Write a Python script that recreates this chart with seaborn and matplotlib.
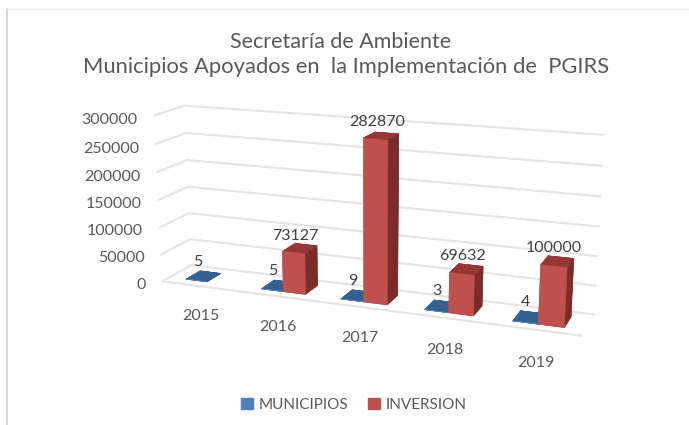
import numpy as np
import pandas as pd
import matplotlib as mpl
import matplotlib.pyplot as plt
import seaborn as sns
from matplotlib.lines import Line2D
from matplotlib.patches import Patch
from mpl_toolkits.mplot3d import proj3d

years = ['2015', '2016', '2017', '2018', '2019']
municipios = [5, 5, 9, 3, 4]
inversion = [0, 73127, 282870, 69632, 100000]
z_ticks = [0, 50000, 100000, 150000, 200000, 250000, 300000]
title_lines = ['Secretaría de Ambiente', 'Municipios Apoyados en  la Implementación de  PGIRS']

sns.set_theme(style='white')
plt.rcParams['font.family'] = ['Lato', 'DejaVu Sans']

blue, red = sns.color_palette(['#4F81BD', '#C0504D'])
blue_top = '#376092'
blue_side = '#2F5480'
red_top = '#953735'
red_side = '#7A2C2A'
grid_color = '#E4E4E4'
text_color = '#595959'
label_color = '#404040'

df = pd.DataFrame({'year': years, 'MUNICIPIOS': municipios, 'INVERSION': inversion})

fig = plt.figure(figsize=(6.89, 4.25), dpi=100)
fig.patch.set_facecolor('white')

side = 620
ax = fig.add_axes([(361 - side / 2) / 689, (425 - 221 - side / 2) / 425, side / 689, side / 425],
                  projection='3d', computed_zorder=False)
ax.set_proj_type('persp', focal_length=0.35)
ax.view_init(elev=15, azim=-69)
ax.set_box_aspect((413, 57, 165), zoom=0.76)
ax.set_xlim(0, 5)
ax.set_ylim(0, 1)
ax.set_zlim(0, 300000)
ax.set_axis_off()
ax.patch.set_alpha(0)


def label(x, y, z, s, color, ha='center', size=11.5):
    # project by hand so the text sits in plain 2d axes coords
    px, py, _ = proj3d.proj_transform(x, y, z, ax.get_proj())
    ax.text2D(px, py, s, transform=ax.transData, ha=ha, va='center', color=color, fontsize=size, zorder=7)


# walls
for z in z_ticks:
    ax.plot([0, 0, 5], [0, 1, 1], [z, z, z], color=grid_color, lw=1.5, zorder=1)
    label(-0.23, 0, z - 11000, str(z), text_color, ha='right')
ax.plot([0, 5], [0, 0], [0, 0], color=grid_color, lw=1.5, zorder=1)

# bars
bar_w = 0.28
y0, depth = 0.25, 0.5
for i, row in df.iterrows():
    blue_faces = [blue, blue_top, blue, blue_side, blue, blue_side]
    ax.bar3d(i + 0.5 - bar_w, y0, 0, bar_w, depth, row['MUNICIPIOS'], color=blue_faces,
             edgecolor=blue_faces, linewidth=0.4, shade=False, zorder=2)
    label(i + 0.5 - bar_w * 0.63, 0.4, row['MUNICIPIOS'] + 29000, str(row['MUNICIPIOS']), label_color)
    if row['INVERSION'] > 0:
        red_faces = [red, red_top, red, red_side, red, red_side]
        ax.bar3d(i + 0.5, y0, 0, bar_w, depth, row['INVERSION'], color=red_faces,
                 edgecolor=red_faces, linewidth=0.4, shade=False, zorder=3)
        label(i + 0.45 + bar_w / 2, 0.5, row['INVERSION'] + 22000, str(row['INVERSION']), label_color)
    label(i + 0.54, -0.1, -52000, row['year'], text_color)

fig.text(341 / 689, 1 - 42 / 425, title_lines[0], ha='center', va='center', color=text_color, fontsize=15.5)
fig.text(346 / 689, 1 - 67 / 425, title_lines[1], ha='center', va='center', color=text_color, fontsize=15.8)

handles = [Patch(color=blue, label='MUNICIPIOS'), Patch(color=red, label='INVERSION')]
leg = fig.legend(handles=handles, loc='center', bbox_to_anchor=(354 / 689, 1 - 405 / 425), ncol=2,
                 frameon=False, fontsize=11, handlelength=0.75, handleheight=0.75,
                 handletextpad=0.4, columnspacing=1.3)
for t in leg.get_texts():
    t.set_color(text_color)

# chart frame
fig.add_artist(Line2D([6.5 / 689, 6.5 / 689], [0, 1 - 9 / 425], color='#D9D9D9', lw=1.5))
fig.add_artist(Line2D([6.5 / 689, 1], [1 - 9 / 425, 1 - 9 / 425], color='#EFEFEF', lw=1))

fig.savefig('out.png', dpi=100)
